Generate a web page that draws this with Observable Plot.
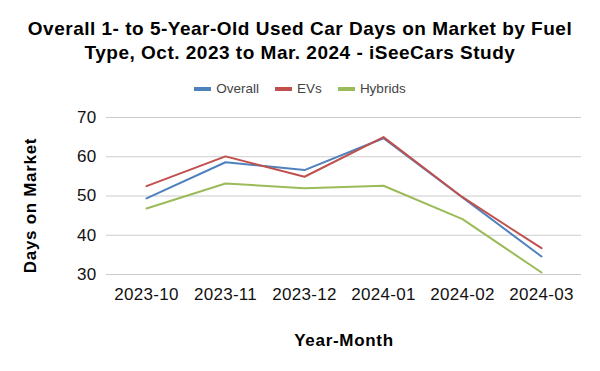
<!DOCTYPE html>
<html>
<head>
<meta charset="utf-8">
<script src="https://cdn.jsdelivr.net/npm/d3@7"></script>
<script src="https://cdn.jsdelivr.net/npm/@observablehq/plot@0.6"></script>
<style>
  html, body { margin: 0; padding: 0; background: #fff; }
  body { width: 600px; height: 371px; overflow: hidden; font-family: "Liberation Sans", Arial, sans-serif; }
  #title { box-sizing: border-box; height: 65px; padding-top: 17px; text-align: center; font-weight: bold; font-size: 19px; letter-spacing: 0.5px; line-height: 24px; color: #000; white-space: nowrap; }
  #legend { box-sizing: border-box; height: 35px; padding-top: 12px; display: flex; justify-content: center; align-items: center; font-size: 13.5px; line-height: 14px; color: #444; }
  .item { display: flex; align-items: center; margin: 0 8px; }
  .sw { width: 17px; height: 4px; margin-right: 5px; }
  svg { display: block; }
  svg text { letter-spacing: 0.3px; }
</style>
</head>
<body>
<div id="title">Overall 1- to 5-Year-Old Used Car Days on Market by Fuel<br>Type, Oct. 2023 to Mar. 2024 - iSeeCars Study</div>
<div id="legend"></div>
<div id="chart"></div>
<script>
const months = ["2023-10", "2023-11", "2023-12", "2024-01", "2024-02", "2024-03"];
const seriesNames = ["Overall", "EVs", "Hybrids"];
const overall = [49.4, 58.6, 56.6, 64.7, 49.6, 34.6];
const evs = [52.5, 60.1, 54.9, 65.0, 49.7, 36.7];
const hybrids = [46.8, 53.2, 52.0, 52.6, 44.1, 30.5];
const colors = ["#4f81bd", "#c0504d", "#9bbb59"];
const yTicks = [30, 40, 50, 60, 70];

const seriesValues = [overall, evs, hybrids];
const data = [];
seriesNames.forEach((s, i) => months.forEach((m, j) => data.push({series: s, month: m, value: seriesValues[i][j]})));

const legend = document.getElementById("legend");
seriesNames.forEach((s, i) => {
  const it = document.createElement("div");
  it.className = "item";
  const sw = document.createElement("span");
  sw.className = "sw";
  sw.style.background = colors[i];
  const t = document.createElement("span");
  t.textContent = s;
  it.appendChild(sw); it.appendChild(t);
  legend.appendChild(it);
});

const chart = Plot.plot({
  width: 600,
  height: 271,
  marginTop: 17,
  marginBottom: 97,
  marginLeft: 106,
  marginRight: 19,
  style: {fontFamily: "Liberation Sans, Arial, sans-serif", fontSize: "17px", color: "#000", background: "#fff"},
  x: {type: "point", domain: months, padding: 0.5, label: null},
  y: {domain: [30, 70], ticks: yTicks, label: null},
  color: {domain: seriesNames, range: colors},
  marks: [
    Plot.gridY(yTicks, {stroke: "#cccccc", strokeOpacity: 1, strokeWidth: 1}),
    Plot.axisY(yTicks, {tickSize: 0, tickPadding: 10, fontSize: 17, fill: "#111", label: null}),
    Plot.axisX(months, {tickSize: 0, tickPadding: 13, fontSize: 17, fill: "#111", label: null}),
    Plot.line(data, {x: "month", y: "value", z: "series", stroke: "series", strokeWidth: 2}),
    Plot.text(["Days on Market"], {frameAnchor: "left", textAnchor: "middle", dx: -76, dy: 9.5, rotate: -90, fontWeight: "bold", fontSize: 17, fill: "#000"}),
    Plot.text(["Year-Month"], {frameAnchor: "bottom", textAnchor: "middle", dy: 71.5, fontWeight: "bold", fontSize: 17, fill: "#000"})
  ]
});
d3.select(chart).selectAll("text").filter(function() {
  const g = this.closest("[font-weight]");
  return g && g.getAttribute("font-weight") === "bold";
}).style("letter-spacing", "0.7px");
document.getElementById("chart").appendChild(chart);
</script>
</body>
</html>
